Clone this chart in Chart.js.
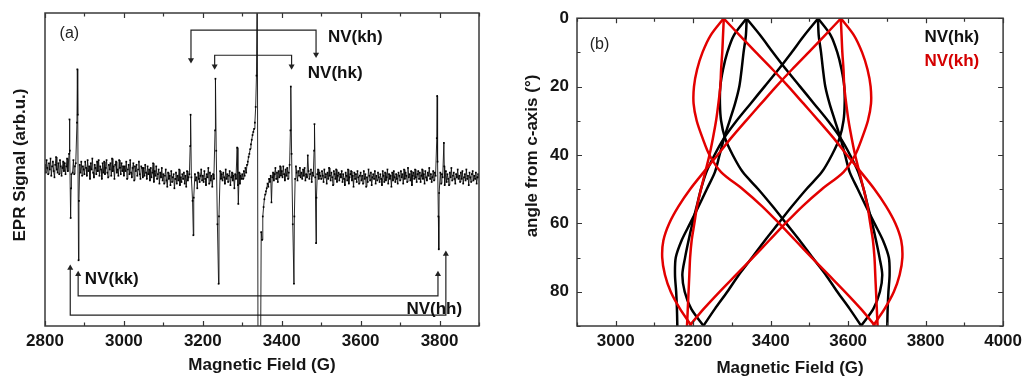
<!DOCTYPE html>
<html><head><meta charset="utf-8">
<script src="https://cdn.jsdelivr.net/npm/chart.js@4.4.0/dist/chart.umd.min.js"></script>
<style>
html,body{margin:0;padding:0;background:#fff;overflow:hidden;}
#wrapA{position:absolute;left:0;top:0;width:510px;height:379px;}
#wrapB{position:absolute;left:510px;top:0;width:517px;height:379px;}
</style></head><body>
<div id="wrapA"><canvas id="cA"></canvas></div>
<div id="wrapB"><canvas id="cB"></canvas></div>
<script>
// ---------- (a) EPR spectrum ----------
const scanStart = 2800, scanStep = 2;
const baselineSignal = [
 3,-2,6,1,-3,4,0,7,-4,2,5,-1,-5,3,8,0,-2,4,-3,6,2,-4,1,5,-1,
 4,-3,2,7,-1,0,5,-4,3,1,-2,6,-3,2,4,-5,1,6,0,3,-2,5,-4,2,0,
 -3,5,1,-4,6,-1,2,-6,4,0,7,-2,-5,3,1,-3,5,-1,6,-4,2,0,-6,4,-2,
 5,-3,1,6,-2,-5,3,0,4,-4,7,-1,2,-6,3,5,-2,0,-4,6,1,-3,4,-1,2,
 -4,2,-1,5,-6,0,3,-3,6,-2,-5,1,4,-7,2,-1,3,-4,0,5,-3,-6,2,1,-5,
 1,-4,3,-2,-6,2,-3,0,-7,1,-5,-2,4,-8,-1,-4,2,-6,-3,0,-9,-2,-5,1,-7,
 -3,-9,-4,0,-7,-11,-2,-6,-4,-10,-1,-8,-5,-3,-12,-6,-2,-9,-4,-7,0,-10,-5,-8,-3,
 -6,-2,-9,-4,-11,-1,-7,-5,-3,-8,-10,-4,-6,-1,-9,-3,-7,-5,-12,-2,-6,-8,-4,0,-7,
 -4,-8,-1,-6,-10,-3,-5,1,-9,-2,-7,-4,-11,-3,-6,0,-8,-5,-2,-9,-4,-7,-1,-6,-3,
 -7,-2,-5,-9,0,-6,-3,-8,-4,-1,-10,-5,-2,-7,-4,-12,-3,-6,1,-8,-5,-2,-9,-4,-6,
 -3,-6,-1,-4,1,-2,3,5,8,10,13,16,19,22,24,26,30,40,60,140,-140,-140,-140,-140,-40,
 -45,-30,-24,-19,-16,-14,-12,-9,-11,-6,-8,-4,-21,-5,-2,-7,-3,1,-6,-2,-8,-1,-5,2,-4,
 -1,-5,2,-3,-7,0,-4,1,-6,-2,3,-5,-1,-8,-3,0,-4,-6,2,-2,-7,-1,-4,1,-5,
 -2,-6,0,-4,1,-7,-3,-5,2,-1,-6,-3,0,-8,-2,-4,1,-5,-7,-1,-3,0,-6,-2,-4,
 -6,-1,-4,-8,0,-5,-3,-9,-2,-6,1,-4,-7,-2,-5,-10,-1,-3,-6,0,-8,-4,-2,-7,-3,
 -5,-1,-8,-3,-6,-10,-2,-4,-7,0,-9,-5,-3,-1,-7,-4,-11,-2,-6,-3,-8,-1,-5,-9,-4,
 -2,-7,-4,-9,-1,-6,-3,-11,-5,-8,0,-4,-7,-2,-10,-5,-3,-6,-1,-9,-4,-7,-2,-5,-8,
 -3,-6,-10,-1,-4,-8,-2,-7,-5,0,-9,-3,-6,-4,-11,-2,-7,-1,-5,-8,-3,-6,-9,-2,-4,
 -7,-1,-5,-3,-9,0,-6,-2,-4,-8,1,-5,-3,-7,-1,-10,-4,-2,-6,0,-5,-8,-3,-1,-6,
 -2,-8,-4,0,-6,-3,-9,-1,-5,-7,-2,-4,1,-6,-3,-8,-5,-1,-7,-2,-4,-6,-3,-5,-4,
 -6,-2,-9,-3,-5,0,-7,-4,-1,-8,-3,-6,-10,-2,-5,1,-7,-4,-2,-6,-9,-3,-5,0,-6,
 -4,-8,-2,-6,-1,-9,-5,-3,-7,0,-6,-4,-10,-2,-5,-8,-3,-1,-7,-4,-6,-2,-9,-5,-3,
 -5
];
const peakField = [2861,2862,2863,2865,2866,2867, 2881,2882,2883,2885,2886,
 3168,3169,3171,3174,3176,3177, 3231,3232,3234,3237,3240,3241, 3287,3289,3290,
 3422,3423,3425,3428,3431,3432, 3466, 3482,3483,3485,3487,3488,
 3793,3794,3795,3797,3798,3799, 3811,3812,3813];
const peakSignal = [10,32,12,-31,-12,-3, 30,64,35,-58,-20,
 15,35,-5,-20,-42,-18, 25,58,12,-35,-73,-30, 14,-10,-22,
 25,53,10,-35,-73,-30, 9, 12,29,-5,-47,-18,
 20,47,5,-30,-51,-15, 17,2,-10];

// bracket markers (field, signal)
const khBracketField = [3170,3170,3487,3487], khBracketSignal = [70,89,89,73.5];
const hkBracketField = [3230,3230,3425,3425], hkBracketSignal = [66,73,73,66];
const kkBracketField = [2884,2884,3796,3796], kkBracketSignal = [-67,-80.8,-80.8,-67];
const hhBracketField = [2864,2864,3816,3816], hhBracketSignal = [-63,-93,-93,-54];

// ---------- (b) angular dependence ----------
const angles = [0,5,10,15,20,25,30,35,40,45,50,55,60,65,70,75,80,85,90];
const hkA = [3337,3373,3406,3440,3476,3512,3548,3580,3605,3626,3640,3651,3662,3672,3681,3688,3682,3665,3633];
const hkB = [3522,3524,3530,3535,3541,3552,3566,3580,3592,3604,3625,3646,3668,3690,3705,3707,3704,3702,3701];
const hkC = [3522,3555,3572,3583,3590,3591,3588,3578,3558,3532,3492,3455,3420,3385,3352,3318,3288,3256,3226];
const hkD = [3523,3487,3454,3420,3384,3348,3312,3280,3255,3234,3220,3209,3198,3188,3179,3172,3178,3195,3227];
const hkE = [3338,3336,3330,3325,3319,3308,3294,3280,3268,3256,3235,3214,3192,3170,3155,3153,3156,3158,3159];
const hkF = [3338,3305,3288,3277,3270,3269,3272,3282,3302,3328,3368,3405,3440,3475,3508,3542,3572,3604,3634];
const khA = [3278,3320,3362,3405,3446,3485,3524,3562,3597,3633,3668,3698,3722,3737,3740,3733,3718,3694,3664];
const khB = [3581,3615,3636,3650,3658,3659,3651,3636,3618,3588,3532,3482,3438,3396,3354,3311,3268,3227,3190];
const khC = [3581,3583,3585,3588,3590,3595,3601,3609,3618,3629,3640,3650,3657,3664,3668,3670,3672,3674,3676];
const khD = [3582,3540,3498,3455,3414,3375,3336,3298,3263,3227,3192,3162,3138,3123,3120,3127,3142,3166,3196];
const khE = [3279,3245,3224,3210,3202,3201,3209,3224,3242,3272,3328,3378,3422,3464,3506,3549,3592,3633,3670];
const khF = [3279,3277,3275,3272,3270,3265,3259,3251,3242,3231,3220,3210,3203,3196,3192,3190,3188,3186,3184];

// ---------- helpers ----------
Chart.defaults.font.family = "'Liberation Sans', Arial, Helvetica, sans-serif";
Chart.defaults.color = '#151515';
const FONT = "'Liberation Sans', Arial, sans-serif";

const pairs = (xs, ys) => xs.map((v, i) => ({x: v, y: ys[i]}));

const spectrum = baselineSignal
  .map((v, i) => ({x: scanStart + i * scanStep, y: v}))
  .filter(p => !peakField.some(f => Math.abs(f - p.x) < 1.5))
  .concat(pairs(peakField, peakSignal))
  .sort((a, b) => a.x - b.x);

const frameTicks = {
  id: 'frameTicks',
  afterDatasetsDraw(chart, args, o) {
    const {ctx, chartArea: a, scales} = chart;
    ctx.save();
    ctx.strokeStyle = '#333';
    ctx.lineWidth = 1.2;
    ctx.beginPath();
    scales.x.ticks.forEach(t => {
      const px = Math.round(scales.x.getPixelForValue(t.value)) + 0.5;
      const len = t.value % o.xMajor === 0 ? 5 : 3.5;
      ctx.moveTo(px, a.top); ctx.lineTo(px, a.top + len);
      ctx.moveTo(px, a.bottom); ctx.lineTo(px, a.bottom - len);
    });
    if (o.yTicks) {
      scales.y.ticks.forEach(t => {
        const py = Math.round(scales.y.getPixelForValue(t.value)) + 0.5;
        const len = t.value % o.yMajor === 0 ? 5 : 3.5;
        ctx.moveTo(a.left, py); ctx.lineTo(a.left + len, py);
        ctx.moveTo(a.right, py); ctx.lineTo(a.right - len, py);
      });
    }
    ctx.stroke();
    ctx.lineWidth = 1.5;
    ctx.strokeStyle = '#3a3a3a';
    ctx.strokeRect(a.left, a.top, a.right - a.left, a.bottom - a.top);
    ctx.restore();
  }
};

const textMarks = {
  id: 'textMarks',
  afterDatasetsDraw(chart, args, o) {
    const {ctx, scales: {x, y}} = chart;
    ctx.save();
    ctx.textBaseline = 'middle';
    o.items.forEach(it => {
      ctx.font = it.font;
      ctx.fillStyle = it.color;
      if (it.rotate) {
        ctx.save();
        ctx.translate(it.px, it.py);
        ctx.rotate(-Math.PI / 2);
        ctx.textAlign = 'center';
        ctx.fillText(it.text, 0, 0);
        ctx.restore();
      } else {
        ctx.textAlign = 'left';
        ctx.fillText(it.text, x.getPixelForValue(it.x), y.getPixelForValue(it.y));
      }
    });
    ctx.restore();
  }
};

const tickFont = {size: 17, weight: 'bold'};
const titleFont = {size: 17, weight: 'bold'};

function bracket(xs, ys, rot) {
  return {
    data: pairs(xs, ys), showLine: true, borderColor: '#222', borderWidth: 1.2,
    pointStyle: 'triangle', pointRadius: [3.5, 0, 0, 3.5], pointRotation: [rot, 0, 0, rot],
    pointBackgroundColor: '#222', pointBorderColor: '#222', pointBorderWidth: 0, tension: 0
  };
}

new Chart(document.getElementById('cA'), {
  type: 'scatter',
  data: {datasets: [
    {data: spectrum, showLine: true, borderColor: '#111', borderWidth: 0.9,
     pointStyle: 'rect', pointRadius: 1.2, pointBackgroundColor: '#000', pointBorderWidth: 0, tension: 0},
    bracket(khBracketField, khBracketSignal, 180),
    bracket(hkBracketField, hkBracketSignal, 180),
    bracket(kkBracketField, kkBracketSignal, 0),
    bracket(hhBracketField, hhBracketSignal, 0)
  ]},
  options: {
    responsive: true, maintainAspectRatio: false, animation: false,
    layout: {padding: {top: 13, right: 31, left: 0, bottom: 0}},
    plugins: {
      legend: {display: false}, tooltip: {enabled: false},
      frameTicks: {xMajor: 200, yTicks: false},
      textMarks: {items: [
        {text: 'EPR Signal (arb.u.)', rotate: true, px: 20, py: 165, font: 'bold 17px ' + FONT, color: '#151515'},
        {text: '(a)', x: 2837, y: 86.6, font: '16px ' + FONT, color: '#222'},
        {text: 'NV(kh)', x: 3517, y: 84.3, font: 'bold 17px ' + FONT, color: '#111'},
        {text: 'NV(hk)', x: 3466, y: 61.3, font: 'bold 17px ' + FONT, color: '#111'},
        {text: 'NV(kk)', x: 2901, y: -70.3, font: 'bold 17px ' + FONT, color: '#111'},
        {text: 'NV(hh)', x: 3716, y: -89.5, font: 'bold 17px ' + FONT, color: '#111'}
      ]}
    },
    scales: {
      x: {type: 'linear', min: 2800, max: 3900,
        ticks: {stepSize: 100, autoSkip: false, maxRotation: 0, font: tickFont, padding: 5,
          callback: v => (v % 200 === 0 ? String(v) : '')},
        grid: {display: false, drawTicks: false}, border: {display: false},
        title: {display: true, text: 'Magnetic Field (G)', font: titleFont, padding: {top: 0, bottom: 3}},
        afterFit: s => { s.height = 53; }},
      y: {type: 'linear', min: -100, max: 100,
        ticks: {display: false}, grid: {display: false, drawTicks: false}, border: {display: false},
        title: {display: false},
        afterFit: s => { s.width = 45; }}
    }
  },
  plugins: [frameTicks, textMarks]
});

const RED = '#e30000', BLK = '#000';
function curve(fields, color) {
  return {data: pairs(fields, angles), showLine: true, borderColor: color, borderWidth: 2.5,
    pointRadius: 0, tension: 0.3};
}

new Chart(document.getElementById('cB'), {
  type: 'scatter',
  data: {datasets: [
    curve(khA, RED), curve(khB, RED), curve(khC, RED), curve(khD, RED), curve(khE, RED), curve(khF, RED),
    curve(hkA, BLK), curve(hkB, BLK), curve(hkC, BLK), curve(hkD, BLK), curve(hkE, BLK), curve(hkF, BLK)
  ]},
  options: {
    responsive: true, maintainAspectRatio: false, animation: false,
    layout: {padding: {top: 16, right: 22, left: 0, bottom: 0}},
    plugins: {
      legend: {display: false}, tooltip: {enabled: false},
      frameTicks: {xMajor: 200, yTicks: true, yMajor: 20},
      textMarks: {items: [
        {text: 'angle from c-axis (°)', rotate: true, px: 22, py: 156, font: 'bold 17px ' + FONT, color: '#151515'},
        {text: '(b)', x: 2933, y: 7.8, font: '16px ' + FONT, color: '#222'},
        {text: 'NV(hk)', x: 3797, y: 5.5, font: 'bold 17px ' + FONT, color: '#111'},
        {text: 'NV(kh)', x: 3797, y: 12.5, font: 'bold 17px ' + FONT, color: '#d40000'}
      ]}
    },
    scales: {
      x: {type: 'linear', min: 2900, max: 4000,
        ticks: {stepSize: 100, autoSkip: false, maxRotation: 0, font: tickFont, padding: 5,
          callback: v => (v % 200 === 0 ? String(v) : '')},
        grid: {display: false, drawTicks: false}, border: {display: false},
        title: {display: true, text: 'Magnetic Field (G)', font: titleFont, padding: {top: 0, bottom: 0}},
        afterFit: s => { s.height = 53; }},
      y: {type: 'linear', min: 0, max: 90, reverse: true,
        ticks: {stepSize: 10, autoSkip: false, font: tickFont, padding: 8,
          callback: v => (v % 20 === 0 ? String(v) : '')},
        grid: {display: false, drawTicks: false}, border: {display: false},
        title: {display: false},
        afterFit: s => { s.width = 67; }}
    }
  },
  plugins: [frameTicks, textMarks]
});
</script>
</body></html>
